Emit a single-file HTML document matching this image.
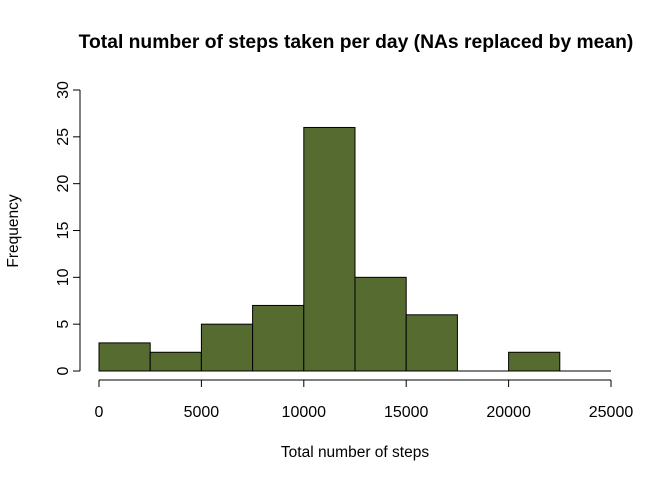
<!DOCTYPE html>
<html><head><meta charset="utf-8"><style>
body{margin:0;background:#fff;}
svg{display:block;font-family:"Liberation Sans",Arial,sans-serif;}
</style></head><body>
<svg id="chart" width="672" height="480">
<text x="356" y="48" text-anchor="middle" font-size="19.3" font-weight="bold">Total number of steps taken per day (NAs replaced by mean)</text>
<text x="355" y="457" text-anchor="middle" font-size="15.5">Total number of steps</text>
<text x="0" y="0" transform="translate(18,231) rotate(-90)" text-anchor="middle" font-size="15.5">Frequency</text>
<g id="bars"></g><g id="xaxis"></g><g id="yaxis"></g>
</svg>
<script>
const binEdges=[0,2500,5000,7500,10000,12500,15000,17500,20000,22500,25000];
const counts=[3,2,5,7,26,10,6,0,2,0];
const xTicks=[0,5000,10000,15000,20000,25000];
const yTicks=[0,5,10,15,20,25,30];
const NS="http://www.w3.org/2000/svg";
const xs=v=>99+v*(512/25000);
const ys=v=>371-v*(281/30);
function mk(t,a,p){const e=document.createElementNS(NS,t);for(const k in a)e.setAttribute(k,a[k]);p.appendChild(e);return e;}
const bars=document.getElementById('bars');
counts.forEach((c,i)=>{
  const x0=xs(binEdges[i]),x1=xs(binEdges[i+1]);
  let r;
  if(c===0){
    r=mk('line',{x1:x0,x2:x1,y1:ys(0),y2:ys(0),stroke:'#000','stroke-width':1},bars);
  }else{
    r=mk('rect',{x:x0,y:ys(c),width:x1-x0,height:ys(0)-ys(c),fill:'#556B2F',stroke:'#000','stroke-width':1},bars);
  }
  
  
});
const xa=document.getElementById('xaxis');
mk('line',{x1:xs(xTicks[0]),x2:xs(xTicks[xTicks.length-1]),y1:380,y2:380,stroke:'#000'},xa);
xTicks.forEach(t=>{
  mk('line',{x1:xs(t),x2:xs(t),y1:380,y2:387,stroke:'#000'},xa);
  let l=mk('text',{x:xs(t),y:417,'text-anchor':'middle','font-size':16},xa);
  l.textContent=t;
  
  
});
const ya=document.getElementById('yaxis');
mk('line',{x1:80,x2:80,y1:ys(yTicks[0]),y2:ys(yTicks[yTicks.length-1]),stroke:'#000'},ya);
yTicks.forEach(t=>{
  mk('line',{x1:73,x2:80,y1:ys(t),y2:ys(t),stroke:'#000'},ya);
  let l=mk('text',{x:0,y:0,transform:`translate(68,${ys(t)}) rotate(-90)`,'text-anchor':'middle','font-size':16},ya);
  l.textContent=t;
  
  
});
</script>
</body></html>
